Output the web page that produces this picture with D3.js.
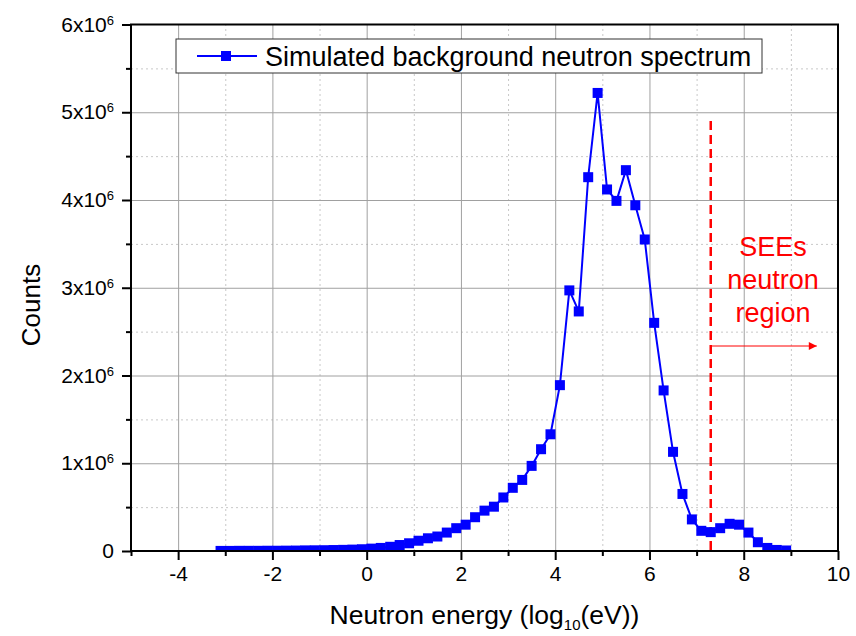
<!DOCTYPE html>
<html>
<head>
<meta charset="utf-8">
<script src="https://cdn.jsdelivr.net/npm/d3@7"></script>
<style>
  body { margin: 0; background: #fff; }
  text { font-family: "Liberation Sans", Arial, sans-serif; }
</style>
</head>
<body>
<script>
// energy bins (log10(eV)) and simulated counts
var energies = [-3.1, -2.9, -2.7, -2.5, -2.3, -2.1, -1.9, -1.7, -1.5, -1.3, -1.1, -0.9, -0.7, -0.5, -0.3, -0.1,
    0.1, 0.3, 0.5, 0.7, 0.9, 1.1, 1.3, 1.5, 1.7, 1.9, 2.1, 2.3, 2.5, 2.7, 2.9,
    3.1, 3.3, 3.5, 3.7, 3.9, 4.1, 4.3, 4.5, 4.7, 4.9, 5.1, 5.3, 5.5, 5.7, 5.9,
    6.1, 6.3, 6.5, 6.7, 6.9, 7.1, 7.3, 7.5, 7.7, 7.9, 8.1, 8.3, 8.5, 8.7, 8.9];
var counts = [1000, 1000, 2000, 2000, 2000, 3000, 3000, 4000, 5000, 7000, 8000, 9000, 11000, 13000, 16000, 20000,
    27000, 35000, 48000, 68000, 88000, 117000, 145000, 165000, 210000, 260000, 300000, 385000, 460000, 505000, 610000,
    720000, 810000, 970000, 1160000, 1330000, 1890000, 2970000, 2730000, 4260000, 5220000, 4120000, 3990000, 4340000, 3940000, 3550000,
    2600000, 1830000, 1130000, 650000, 360000, 230000, 215000, 260000, 310000, 300000, 210000, 100000, 35000, 12000, 6000];

var xTicks = [-4, -2, 0, 2, 4, 6, 8, 10];
var xMinorTicks = [-5, -3, -1, 1, 3, 5, 7, 9];
var yTicks = [0, 1e6, 2e6, 3e6, 4e6, 5e6, 6e6];
var yMinorTicks = [0.5e6, 1.5e6, 2.5e6, 3.5e6, 4.5e6, 5.5e6];

var legendLabel = "Simulated background neutron spectrum";
var seeLimit = 7.3; // ~20 MeV
var seeLabel = ["SEEs", "neutron", "region"];

var data = energies.map(function (e, i) { return { x: e, y: counts[i] }; });

//Define Margins and svg here:
var width = 856;
var height = 636;
var margin = { left: 131, right: 18, top: 24.5, bottom: 85 };

var svg = d3.select("body").append("svg")
    .attr("width", width)
    .attr("height", height);

var xScale = d3.scaleLinear()
    .domain([-5, 10])
    .range([margin.left, width - margin.right]);

var yScale = d3.scaleLinear()
    .domain([0, 6e6])
    .range([height - margin.bottom, margin.top]);

var plotW = width - margin.left - margin.right;
var plotH = height - margin.top - margin.bottom;
var bottom = height - margin.bottom;

// grid lines
svg.append("g")
    .attr("transform", "translate(0," + bottom + ")")
    .call(d3.axisBottom(xScale).tickValues(xMinorTicks.slice(1)).tickSize(-plotH).tickFormat(""))
    .call(function (g) { g.select(".domain").remove(); })
    .selectAll("line").attr("stroke", "#c8c8c8").attr("stroke-dasharray", "2,3");

svg.append("g")
    .attr("transform", "translate(" + margin.left + ",0)")
    .call(d3.axisLeft(yScale).tickValues(yMinorTicks).tickSize(-plotW).tickFormat(""))
    .call(function (g) { g.select(".domain").remove(); })
    .selectAll("line").attr("stroke", "#c8c8c8").attr("stroke-dasharray", "2,3");

svg.append("g")
    .attr("transform", "translate(0," + bottom + ")")
    .call(d3.axisBottom(xScale).tickValues(xTicks.slice(0, -1)).tickSize(-plotH).tickFormat(""))
    .call(function (g) { g.select(".domain").remove(); })
    .selectAll("line").attr("stroke", "#a0a0a0");

svg.append("g")
    .attr("transform", "translate(" + margin.left + ",0)")
    .call(d3.axisLeft(yScale).tickValues(yTicks.slice(1, -1)).tickSize(-plotW).tickFormat(""))
    .call(function (g) { g.select(".domain").remove(); })
    .selectAll("line").attr("stroke", "#a0a0a0");

// legend box
var legend = svg.append("g").attr("transform", "translate(176,39)");
legend.append("rect")
    .attr("width", 586).attr("height", 34)
    .attr("fill", "#fff").attr("stroke", "#333").attr("stroke-width", 1);
legend.append("line")
    .attr("x1", 21).attr("x2", 81).attr("y1", 17).attr("y2", 17)
    .attr("stroke", "#0000ff").attr("stroke-width", 2);
legend.append("rect")
    .attr("x", 45).attr("y", 12).attr("width", 10).attr("height", 10)
    .attr("fill", "#0000ff");
legend.append("text")
    .attr("x", 89).attr("y", 26.5)
    .attr("font-size", "27px")
    .text(legendLabel);

// SEE region marker
svg.append("line")
    .attr("x1", xScale(seeLimit)).attr("x2", xScale(seeLimit))
    .attr("y1", 121).attr("y2", bottom)
    .attr("stroke", "#ff0000").attr("stroke-width", 2.5)
    .attr("stroke-dasharray", "9,5");

svg.append("defs").append("marker")
    .attr("id", "arrow")
    .attr("viewBox", "0 0 10 10")
    .attr("refX", 10).attr("refY", 5)
    .attr("markerWidth", 12).attr("markerHeight", 8)
    .attr("markerUnits", "userSpaceOnUse")
    .attr("orient", "auto")
    .append("path").attr("d", "M0,0L10,5L0,10Z").attr("fill", "#ff0000");

svg.append("line")
    .attr("x1", xScale(seeLimit)).attr("x2", xScale(9.55))
    .attr("y1", 346).attr("y2", 346)
    .attr("stroke", "#ff0000").attr("stroke-width", 1)
    .attr("marker-end", "url(#arrow)");

svg.append("g").selectAll("text")
    .data(seeLabel)
    .enter().append("text")
    .attr("x", 773)
    .attr("y", function (d, i) { return 256 + i * 33; })
    .attr("text-anchor", "middle")
    .attr("font-size", "27px")
    .attr("fill", "#ff0000")
    .text(function (d) { return d; });

// data line + markers, clipped to the frame
svg.append("clipPath").attr("id", "plotclip")
    .append("rect")
    .attr("x", margin.left).attr("y", margin.top)
    .attr("width", plotW).attr("height", plotH);

var plot = svg.append("g").attr("clip-path", "url(#plotclip)");

var line = d3.line()
    .x(function (d) { return xScale(d.x); })
    .y(function (d) { return yScale(d.y); });

plot.append("path")
    .datum(data)
    .attr("d", line)
    .attr("fill", "none")
    .attr("stroke", "#0000ff")
    .attr("stroke-width", 2);

plot.selectAll(".pt")
    .data(data)
    .enter().append("rect")
    .attr("class", "pt")
    .attr("x", function (d) { return xScale(d.x) - 5; })
    .attr("y", function (d) { return yScale(d.y) - 5; })
    .attr("width", 10).attr("height", 10)
    .attr("fill", "#0000ff");

// frame
svg.append("rect")
    .attr("x", margin.left).attr("y", margin.top)
    .attr("width", plotW).attr("height", plotH)
    .attr("fill", "none").attr("stroke", "#000").attr("stroke-width", 2);

// axes
var xAxisGroup = svg.append("g")
    .attr("transform", "translate(0," + bottom + ")")
    .call(d3.axisBottom(xScale).tickValues(xTicks).tickSize(9).tickPadding(6)
        .tickFormat(function (d) { return String(d); }));
var xMinor = svg.append("g")
    .attr("transform", "translate(0," + bottom + ")")
    .call(d3.axisBottom(xScale).tickValues(xMinorTicks).tickSize(5).tickFormat(""));

var yAxisGroup = svg.append("g")
    .attr("transform", "translate(" + margin.left + ",0)")
    .call(d3.axisLeft(yScale).tickValues(yTicks).tickSize(9).tickPadding(8));
var yMinor = svg.append("g")
    .attr("transform", "translate(" + margin.left + ",0)")
    .call(d3.axisLeft(yScale).tickValues(yMinorTicks).tickSize(5).tickFormat(""));

[xAxisGroup, xMinor, yAxisGroup, yMinor].forEach(function (g) {
    g.select(".domain").remove();
    g.selectAll("line").attr("stroke", "#000").attr("stroke-width", 2);
    g.selectAll("text").attr("font-family", "Liberation Sans, Arial, sans-serif")
        .attr("font-size", "21px").attr("fill", "#000");
});

// y labels as Nx10^6
yAxisGroup.selectAll(".tick text").each(function (d) {
    var t = d3.select(this);
    if (d === 0) { t.text("0"); return; }
    t.text(null);
    t.append("tspan").text((d / 1e6) + "x10");
    t.append("tspan").attr("dy", "-0.55em").attr("font-size", "13px").text("6");
});

// axis titles
svg.append("text")
    .attr("transform", "translate(40,305) rotate(-90)")
    .attr("text-anchor", "middle")
    .attr("font-size", "26px")
    .text("Counts");

var xTitle = svg.append("text")
    .attr("x", xScale(2.5)).attr("y", 624)
    .attr("text-anchor", "middle")
    .attr("font-size", "26.5px");
xTitle.append("tspan").text("Neutron energy (log");
xTitle.append("tspan").attr("dy", "6").attr("font-size", "15px").text("10");
xTitle.append("tspan").attr("dy", "-6").text("(eV))");
</script>
</body>
</html>
